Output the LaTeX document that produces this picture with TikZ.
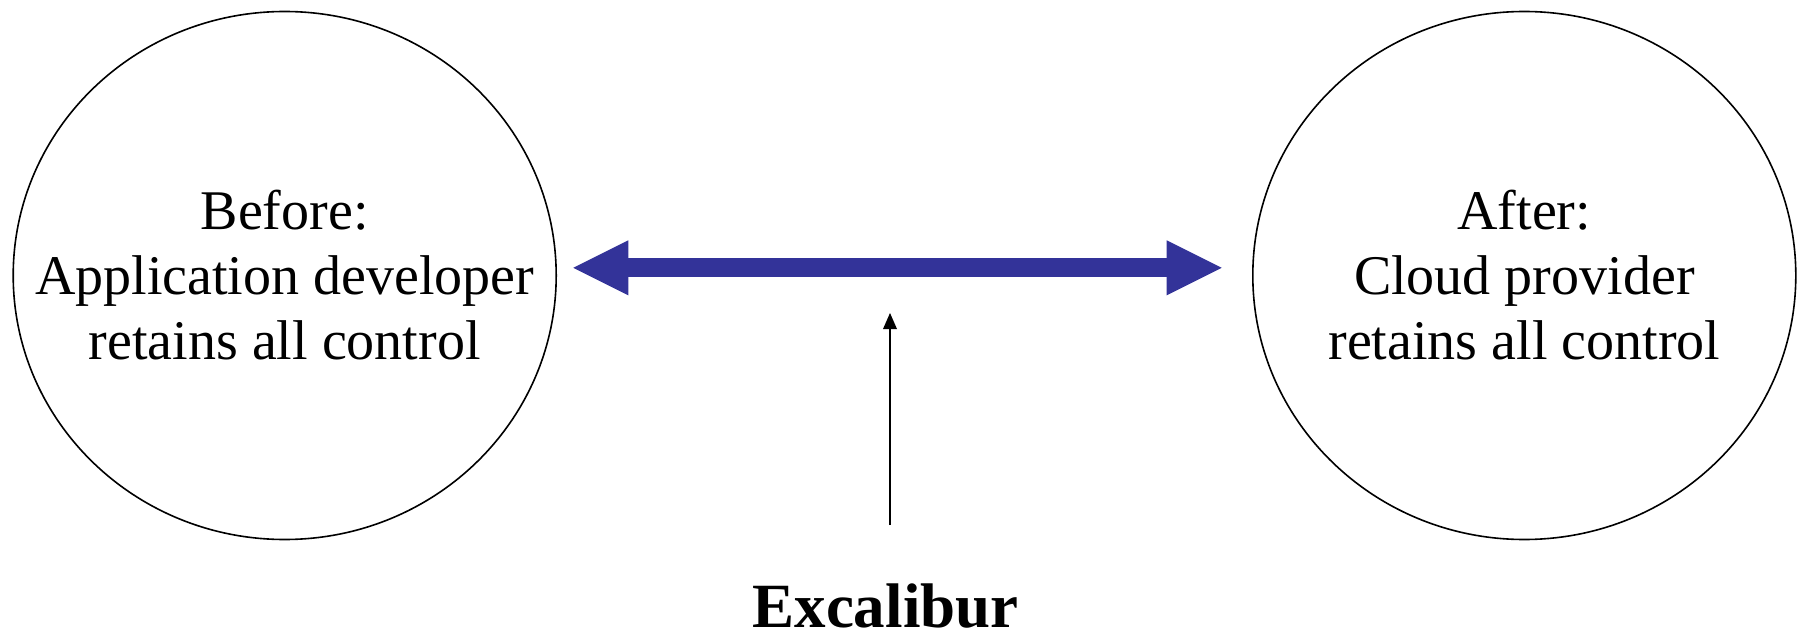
\documentclass[tikz,border=0pt]{standalone}
\usepackage{fontspec}
\setmainfont{Liberation Serif}
\usetikzlibrary{shapes.geometric,arrows.meta}
\definecolor{arrowblue}{HTML}{333399}
\tikzset{
  stage/.style={ellipse, draw=black, line width=1.6pt, minimum width=543pt,
    minimum height=528pt, inner sep=0pt},
  stagetext/.style={align=center, inner sep=0pt,
    font=\fontsize{56}{65}\selectfont},
  shift arrow/.style={draw=arrowblue, line width=19pt,
    {Triangle[length=55pt,width=55pt,line width=0pt]}-{Triangle[length=55pt,width=55pt,line width=0pt]}},
  push arrow/.style={draw=black, line width=1.6pt,
    -{Triangle[length=16pt,width=14pt,line width=0pt]}},
  caption/.style={font=\bfseries\fontsize{63}{70}\selectfont, inner sep=0pt}
}
\begin{document}
\begin{tikzpicture}[x=1pt,y=-1pt]
  \path[fill=white, use as bounding box] (0,0) rectangle (1803,636);

  % the two end states of control
  \node[stage] (before) at (284.7,275.5) {};
  \node[stagetext] (beforetext) at (before.center) {Before:\\Application developer\\retains all control};
  \node[stage] (after) at (1524.3,275.5) {};
  \node[stagetext] (aftertext) at (after.center) {After:\\Cloud provider\\retains all control};

  % spectrum between them
  \coordinate (spanL) at (573.3,267.8);
  \coordinate (spanR) at (1221.7,267.8);
  \draw[shift arrow] (spanL) -- (spanR);

  % Excalibur sits in between
  \node[caption, anchor=base] (excal) at (885.5,627) {Excalibur};
  \coordinate (pushTail) at (890,525);
  \coordinate (pushTip) at (890,313);
  \draw[push arrow] (pushTail) -- (pushTip);
\end{tikzpicture}
\end{document}
